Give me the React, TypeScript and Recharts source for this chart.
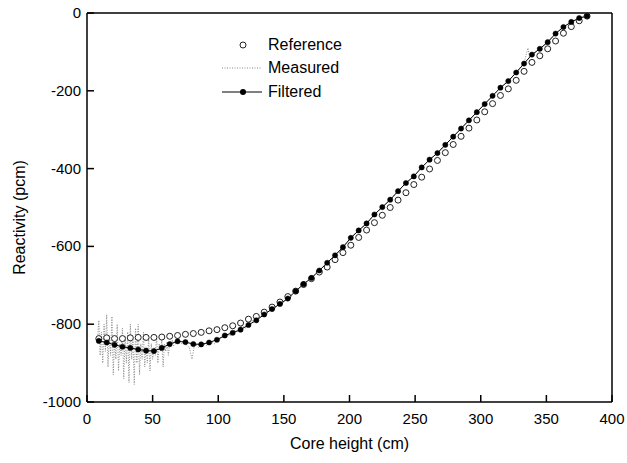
import React from "react";
import { LineChart, Line, XAxis, YAxis, ReferenceLine } from "recharts";

// core height (cm) of the reference / filtered points
const heights = [
  9, 15, 21, 27, 33, 39, 45, 51, 57, 63, 69, 75, 81, 87, 93, 99, 105, 111, 117, 123, 129,
  135, 141, 147, 153, 159, 165, 171, 177, 183, 189, 195, 201, 207, 213, 219, 225, 231, 237,
  243, 249, 255, 261, 267, 273, 279, 285, 291, 297, 303, 309, 315, 321, 327, 333, 339, 345,
  351, 357, 363, 369, 375, 381,
];

const reference = [
  -837, -835, -837, -837, -835, -834, -834, -834, -833, -831, -829, -826, -824, -821, -817,
  -814, -809, -804, -797, -787, -780, -769, -756, -743, -729, -715, -698, -683, -666, -653,
  -634, -616, -597, -577, -558, -539, -520, -500, -481, -462, -441, -422, -401, -379, -359,
  -338, -317, -296, -275, -254, -233, -212, -195, -173, -150, -127, -110, -92, -72, -52, -35,
  -20, -8,
];

const filtered = [
  -843, -847, -853, -858, -861, -865, -868, -869, -861, -851, -844, -846, -851, -852, -847,
  -840, -829, -822, -814, -802, -790, -775, -761, -748, -734, -715, -697, -681, -662, -642,
  -623, -602, -578, -559, -541, -518, -499, -480, -458, -437, -420, -397, -377, -360, -339,
  -318, -297, -276, -255, -234, -213, -192, -175, -153, -130, -107, -92, -75, -53, -36, -23,
  -13, -8,
];

const measuredHeights = [
  8, 9, 10, 11, 12, 13, 14, 15, 16, 17, 18, 19, 20, 21, 22, 23, 24, 25, 26, 27, 28, 29, 30,
  31, 32, 33, 34, 35, 36, 37, 38, 39, 40, 41, 42, 43, 44, 45, 46, 47, 48, 49, 50, 51, 52, 53,
  54, 55, 56, 57, 58, 59, 60, 61, 62, 63, 64, 65, 66, 69, 72, 75, 78, 80, 82, 85, 88, 91, 94,
  97, 100, 103, 106, 109, 112, 115, 118, 121, 124, 127, 130, 135, 141, 147, 153, 159, 165,
  171, 177, 183, 189, 195, 201, 207, 213, 219, 225, 231, 237, 243, 249, 255, 261, 267, 273,
  279, 285, 291, 297, 303, 309, 315, 321, 327, 333, 336, 337, 339, 345, 351, 357, 363, 369,
  375, 381,
];

const measured = [
  -840, -790, -880, -820, -900, -800, -870, -775, -910, -830, -880, -780, -930, -840, -890,
  -800, -920, -850, -880, -810, -940, -830, -900, -820, -950, -800, -890, -840, -955, -810,
  -900, -800, -930, -850, -890, -820, -910, -860, -900, -830, -920, -850, -890, -860, -880,
  -830, -900, -850, -870, -840, -910, -850, -870, -845, -880, -850, -860, -840, -855, -845,
  -850, -850, -860, -890, -850, -860, -850, -855, -845, -850, -840, -835, -825, -830, -815,
  -820, -805, -810, -795, -790, -785, -775, -761, -748, -734, -715, -697, -681, -662, -642,
  -623, -602, -578, -559, -541, -518, -499, -480, -458, -437, -420, -397, -377, -360, -339,
  -318, -297, -276, -255, -234, -213, -192, -175, -153, -128, -90, -112, -108, -92, -75, -53,
  -36, -23, -13, -8,
];

const xTicks = [0, 50, 100, 150, 200, 250, 300, 350, 400];
const yTicks = [0, -200, -400, -600, -800, -1000];

const refData = heights.map((h, i) => ({ h, v: reference[i] }));
const filtData = heights.map((h, i) => ({ h, v: filtered[i] }));
const measData = measuredHeights.map((h, i) => ({ h, v: measured[i] }));

const FONT = "'Liberation Sans', Arial, sans-serif";

const XTick = (props: any) => {
  const { x, y, payload } = props;
  return (
    <g>
      <line x1={x} y1={y} x2={x} y2={y - 7} stroke="#000" strokeWidth={1.5} />
      <text x={x} y={y + 22} textAnchor="middle" fontSize={15} fontFamily={FONT} fill="#000">
        {payload.value}
      </text>
    </g>
  );
};

const YTick = (props: any) => {
  const { x, y, payload } = props;
  return (
    <g>
      <line x1={x} y1={y} x2={x + 7} y2={y} stroke="#000" strokeWidth={1.5} />
      <text x={x - 6} y={y + 5} textAnchor="end" fontSize={15} fontFamily={FONT} fill="#000">
        {payload.value}
      </text>
    </g>
  );
};

const legendItems = [
  { label: "Reference", kind: "ref" },
  { label: "Measured", kind: "meas" },
  { label: "Filtered", kind: "filt" },
];

function ChartLegend() {
  return (
    <div
      style={{
        position: "absolute",
        left: 220,
        top: 33,
        fontFamily: FONT,
        fontSize: 16,
        color: "#000",
      }}
    >
      {legendItems.map((it) => (
        <div key={it.label} style={{ display: "flex", alignItems: "center", height: 23.5 }}>
          <svg width={46} height={12} style={{ marginRight: 2 }}>
            {it.kind === "ref" && <circle cx={23} cy={6} r={3} fill="#fff" stroke="#222" />}
            {it.kind === "meas" && (
              <line x1={2} y1={6} x2={42} y2={6} stroke="#888" strokeDasharray="1 1.5" />
            )}
            {it.kind === "filt" && (
              <>
                <line x1={2} y1={6} x2={42} y2={6} stroke="#000" />
                <circle cx={23} cy={6} r={3} fill="#000" />
              </>
            )}
          </svg>
          <span>{it.label}</span>
        </div>
      ))}
    </div>
  );
}

export default function App() {
  return (
    <div style={{ position: "absolute", left: 0, top: 0, width: 627, height: 463, background: "#fff" }}>
      <LineChart width={627} height={463} margin={{ top: 13, right: 15, bottom: 21, left: 17 }}>
        <XAxis
          dataKey="h"
          type="number"
          domain={[0, 400]}
          ticks={xTicks}
          tick={<XTick />}
          tickSize={0}
          tickMargin={0}
          height={40}
          axisLine={{ stroke: "#000", strokeWidth: 1.5 }}
          allowDuplicatedCategory={false}
          label={{
            value: "Core height (cm)",
            position: "insideBottom",
            offset: -7,
            fontSize: 16,
            fontFamily: FONT,
            fill: "#000",
          }}
        />
        <YAxis
          type="number"
          domain={[-1000, 0]}
          ticks={yTicks}
          tick={<YTick />}
          tickSize={0}
          tickMargin={0}
          width={70}
          axisLine={{ stroke: "#000", strokeWidth: 1.5 }}
          label={{
            value: "Reactivity (pcm)",
            angle: -90,
            position: "insideLeft",
            offset: 0,
            dx: 2,
            dy: 10,
            fontSize: 16,
            fontFamily: FONT,
            fill: "#000",
            style: { textAnchor: "middle" },
          }}
        />
        <ReferenceLine y={0} stroke="#000" strokeWidth={1.5} ifOverflow="visible" />
        <ReferenceLine x={400} stroke="#000" strokeWidth={1.5} ifOverflow="visible" />
        <Line
          data={measData}
          dataKey="v"
          name="Measured"
          stroke="#888"
          strokeWidth={1}
          strokeDasharray="1 1.5"
          dot={false}
          isAnimationActive={false}
        />
        <Line
          data={refData}
          dataKey="v"
          name="Reference"
          stroke="none"
          dot={{ r: 3, fill: "#fff", stroke: "#222", strokeWidth: 1 }}
          isAnimationActive={false}
        />
        <Line
          data={filtData}
          dataKey="v"
          name="Filtered"
          stroke="#000"
          strokeWidth={1}
          dot={{ r: 2.6, fill: "#000", stroke: "#000", strokeWidth: 0.5 }}
          isAnimationActive={false}
        />
      </LineChart>
      <ChartLegend />
    </div>
  );
}
